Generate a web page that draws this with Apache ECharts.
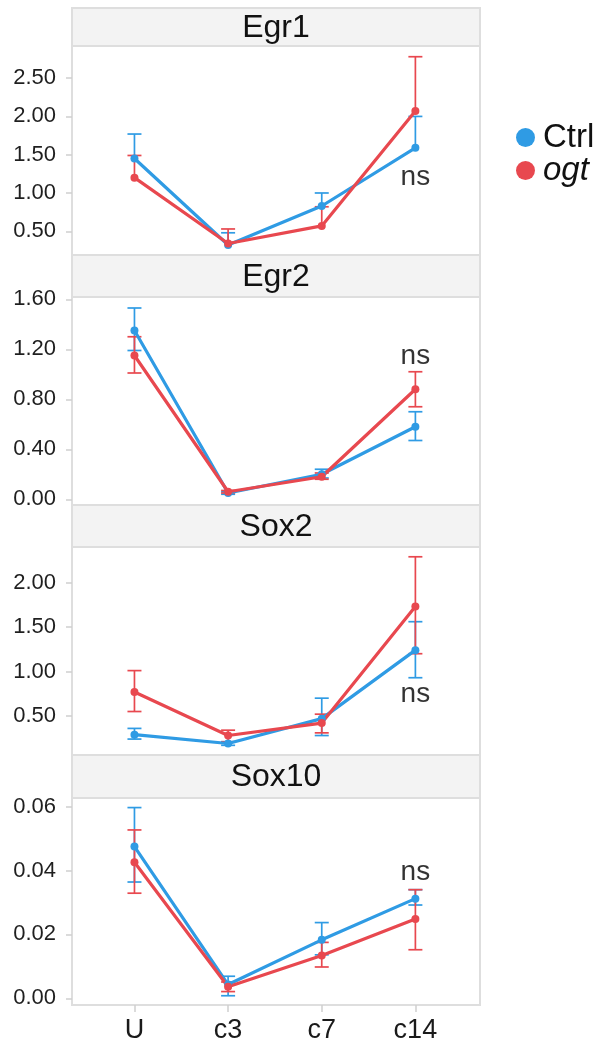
<!DOCTYPE html>
<html>
<head>
<meta charset="utf-8">
<script src="https://cdn.jsdelivr.net/npm/echarts@6/dist/echarts.min.js"></script>
<style>
  html, body { margin: 0; padding: 0; background: #fff; }
  #chart { width: 606px; height: 1044px; }
</style>
</head>
<body>
<div id="chart"></div>
<script>
const categories = ['U', 'c3', 'c7', 'c14']
const panelNames = ['Egr1', 'Egr2', 'Sox2', 'Sox10']

// Egr1 (only upper error bars shown)
const egr1Ctrl = [1.45, 0.32, 0.83, 1.59]
const egr1CtrlLow = [1.45, 0.32, 0.83, 1.59]
const egr1CtrlHigh = [1.77, 0.48, 1.00, 2.00]
const egr1Ogt = [1.20, 0.34, 0.57, 2.07]
const egr1OgtLow = [1.20, 0.34, 0.57, 2.07]
const egr1OgtHigh = [1.49, 0.53, 0.82, 2.78]

// Egr2
const egr2Ctrl = [1.35, 0.05, 0.20, 0.58]
const egr2CtrlLow = [1.19, 0.04, 0.17, 0.47]
const egr2CtrlHigh = [1.53, 0.06, 0.24, 0.70]
const egr2Ogt = [1.15, 0.06, 0.18, 0.88]
const egr2OgtLow = [1.01, 0.05, 0.16, 0.74]
const egr2OgtHigh = [1.30, 0.07, 0.21, 1.02]

// Sox2
const sox2Ctrl = [0.29, 0.19, 0.47, 1.24]
const sox2CtrlLow = [0.24, 0.17, 0.28, 0.93]
const sox2CtrlHigh = [0.36, 0.21, 0.70, 1.56]
const sox2Ogt = [0.77, 0.28, 0.42, 1.73]
const sox2OgtLow = [0.55, 0.21, 0.31, 1.20]
const sox2OgtHigh = [1.01, 0.34, 0.52, 2.29]

// Sox10
const sox10Ctrl = [0.0475, 0.0043, 0.0183, 0.0312]
const sox10CtrlLow = [0.0364, 0.0008, 0.0136, 0.0292]
const sox10CtrlHigh = [0.0597, 0.0069, 0.0237, 0.0340]
const sox10Ogt = [0.0426, 0.0036, 0.0134, 0.0248]
const sox10OgtLow = [0.0329, 0.0021, 0.0098, 0.0152]
const sox10OgtHigh = [0.0527, 0.0051, 0.0175, 0.0340]

// y axis ticks per panel
const egr1Ticks = [0.5, 1.0, 1.5, 2.0, 2.5]
const egr2Ticks = [0.0, 0.4, 0.8, 1.2, 1.6]
const sox2Ticks = [0.5, 1.0, 1.5, 2.0]
const sox10Ticks = [0.0, 0.02, 0.04, 0.06]

// "ns" annotation heights (at c14)
const nsY = [1.21, 1.146, 0.74, 0.0393]

const ctrlColor = '#2f9be4'
const ogtColor = '#e8484f'
const font = 'Liberation Sans, Arial, sans-serif'

const panels = [
  { ctrl: egr1Ctrl, ctrlLow: egr1CtrlLow, ctrlHigh: egr1CtrlHigh, ogt: egr1Ogt, ogtLow: egr1OgtLow, ogtHigh: egr1OgtHigh, ticks: egr1Ticks, min: 0.19, max: 2.92 },
  { ctrl: egr2Ctrl, ctrlLow: egr2CtrlLow, ctrlHigh: egr2CtrlHigh, ogt: egr2Ogt, ogtLow: egr2OgtLow, ogtHigh: egr2OgtHigh, ticks: egr2Ticks, min: -0.046, max: 1.618 },
  { ctrl: sox2Ctrl, ctrlLow: sox2CtrlLow, ctrlHigh: sox2CtrlHigh, ogt: sox2Ogt, ogtLow: sox2OgtLow, ogtHigh: sox2OgtHigh, ticks: sox2Ticks, min: 0.061, max: 2.40 },
  { ctrl: sox10Ctrl, ctrlLow: sox10CtrlLow, ctrlHigh: sox10CtrlHigh, ogt: sox10Ogt, ogtLow: sox10OgtLow, ogtHigh: sox10OgtHigh, ticks: sox10Ticks, min: -0.0021, max: 0.0627 }
]

// layout: header strip top, plot top, plot height
const headerTops = [8, 255, 505, 755]
const plotTops = [46, 297, 547, 798]
const plotHeights = [209, 208, 208, 207]
const left = 72
const right = 480

function renderErr (params, api) {
  const x = api.value(0)
  const lo = api.value(1)
  const hi = api.value(2)
  const m = api.value(3)
  const top = api.coord([x, hi])
  const bot = api.coord([x, lo])
  const c = api.visual('color')
  const w = 7
  const st = { stroke: c, lineWidth: 1.7 }
  const children = [
    { type: 'line', shape: { x1: top[0], y1: top[1], x2: bot[0], y2: bot[1] }, style: st },
    { type: 'line', shape: { x1: top[0] - w, y1: top[1], x2: top[0] + w, y2: top[1] }, style: st }
  ]
  if (lo < m) {
    children.push({ type: 'line', shape: { x1: bot[0] - w, y1: bot[1], x2: bot[0] + w, y2: bot[1] }, style: st })
  }
  return { type: 'group', children }
}

const grids = []
const xAxes = []
const yAxes = []
const series = []
const graphics = []

panels.forEach((p, i) => {
  grids.push({
    left: left,
    width: right - left,
    top: plotTops[i],
    height: plotHeights[i],
    show: true,
    borderColor: '#dedede',
    borderWidth: 2,
    backgroundColor: '#fff'
  })
  const isLast = i === panels.length - 1
  xAxes.push({
    type: 'value',
    gridIndex: i,
    min: -0.667,
    max: 3.69,
    axisLine: { show: false, onZero: false },
    splitLine: { show: false },
    axisTick: {
      show: isLast,
      customValues: [0, 1, 2, 3],
      length: 7,
      lineStyle: { color: '#d0d0d0', width: 1.5 }
    },
    axisLabel: {
      show: isLast,
      customValues: [0, 1, 2, 3],
      formatter: v => categories[Math.round(v)],
      fontSize: 27,
      fontFamily: font,
      color: '#1a1a1a',
      margin: 12
    }
  })
  yAxes.push({
    type: 'value',
    gridIndex: i,
    min: p.min,
    max: p.max,
    axisLine: { show: false, onZero: false },
    splitLine: { show: false },
    axisTick: {
      show: true,
      customValues: p.ticks,
      length: 6,
      lineStyle: { color: '#cfcfcf', width: 1.5 }
    },
    axisLabel: {
      customValues: p.ticks,
      formatter: v => v.toFixed(2),
      fontSize: 22,
      fontFamily: font,
      color: '#1f1f1f',
      margin: 16
    }
  })
  series.push({
    name: 'Ctrl',
    type: 'line',
    xAxisIndex: i,
    yAxisIndex: i,
    data: p.ctrl.map((v, j) => [j, v]),
    color: ctrlColor,
    lineStyle: { width: 3.2 },
    symbol: 'circle',
    symbolSize: 8,
    z: 3
  })
  series.push({
    name: 'ogt',
    type: 'line',
    xAxisIndex: i,
    yAxisIndex: i,
    data: p.ogt.map((v, j) => [j, v]),
    color: ogtColor,
    lineStyle: { width: 3.2 },
    symbol: 'circle',
    symbolSize: 8,
    z: 3
  })
  series.push({
    name: 'Ctrl',
    type: 'custom',
    xAxisIndex: i,
    yAxisIndex: i,
    color: ctrlColor,
    renderItem: renderErr,
    encode: { x: 0, y: [1, 2] },
    data: p.ctrl.map((v, j) => [j, p.ctrlLow[j], p.ctrlHigh[j], v]),
    z: 2
  })
  series.push({
    name: 'ogt',
    type: 'custom',
    xAxisIndex: i,
    yAxisIndex: i,
    color: ogtColor,
    renderItem: renderErr,
    encode: { x: 0, y: [1, 2] },
    data: p.ogt.map((v, j) => [j, p.ogtLow[j], p.ogtHigh[j], v]),
    z: 2
  })
  series.push({
    name: 'ns',
    type: 'scatter',
    xAxisIndex: i,
    yAxisIndex: i,
    data: [[3, nsY[i]]],
    symbolSize: 1,
    itemStyle: { color: 'rgba(0,0,0,0)' },
    label: {
      show: true,
      position: 'inside',
      formatter: 'ns',
      fontSize: 28,
      fontFamily: font,
      color: '#000'
    },
    silent: true,
    z: 4
  })
  // header strip
  graphics.push({
    type: 'rect',
    shape: { x: left, y: headerTops[i], width: right - left, height: plotTops[i] - headerTops[i] },
    style: { fill: '#f3f3f3', stroke: '#dedede', lineWidth: 2 },
    z: 0
  })
  graphics.push({
    type: 'text',
    x: (left + right) / 2,
    y: (headerTops[i] + plotTops[i]) / 2 + 1,
    style: {
      text: panelNames[i],
      fontSize: 32,
      fontFamily: font,
      fill: '#111',
      align: 'center',
      verticalAlign: 'middle'
    },
    z: 1
  })
})

const chart = echarts.init(document.getElementById('chart'))
chart.setOption({
  animation: false,
  backgroundColor: '#fff',
  grid: grids,
  xAxis: xAxes,
  yAxis: yAxes,
  series: series,
  graphic: graphics,
  legend: {
    orient: 'vertical',
    left: 511,
    top: 116,
    icon: 'circle',
    itemWidth: 19,
    itemHeight: 19,
    itemGap: 0,
    data: [
      { name: 'Ctrl', itemStyle: { color: ctrlColor } },
      { name: 'ogt', itemStyle: { color: ogtColor } }
    ],
    formatter: name => name === 'ogt' ? '{i|ogt}' : name,
    textStyle: {
      fontSize: 33,
      fontFamily: font,
      color: '#111',
      lineHeight: 33,
      padding: [0, 0, 0, 3],
      rich: {
        i: { fontSize: 33, fontStyle: 'italic', fontFamily: font, color: '#111' }
      }
    }
  }
})
</script>
</body>
</html>
